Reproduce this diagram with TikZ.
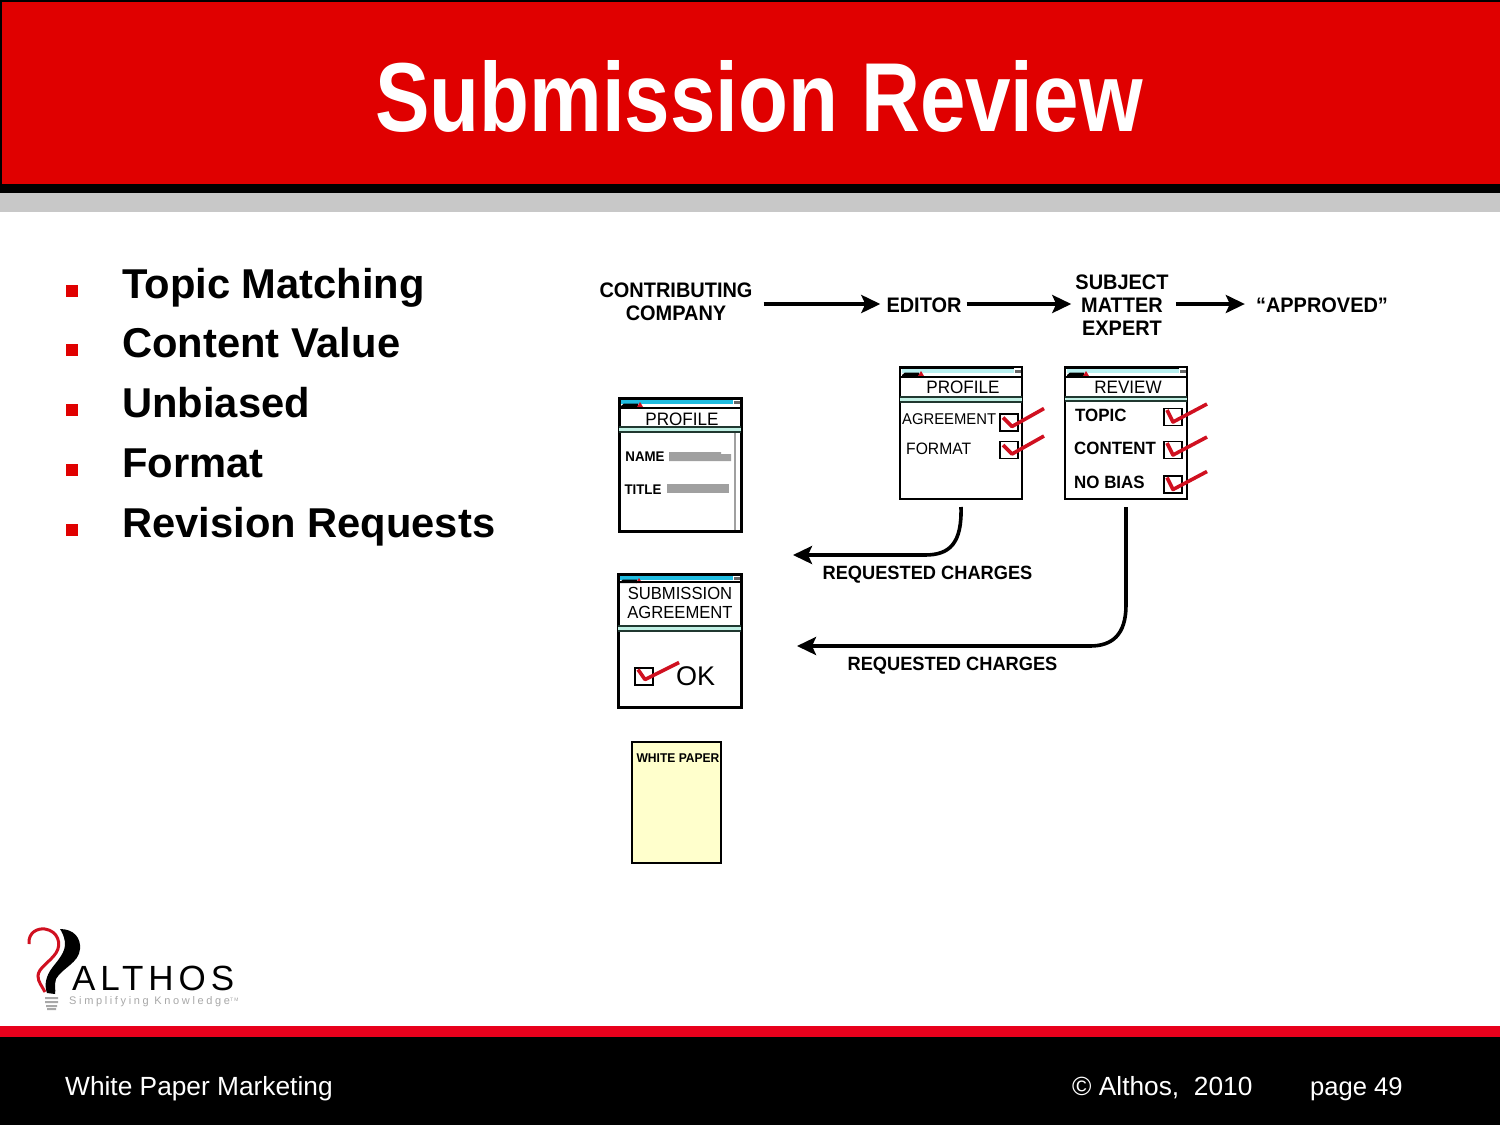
\documentclass[tikz,border=0pt]{standalone}
\usepackage{fontspec}
\usepackage{xcolor}
\usetikzlibrary{calc,arrows.meta}
\setmainfont{Liberation Sans}
\newfontfamily\titlefont[FakeStretch=0.834]{Liberation Sans}
\newfontfamily\labfont[FakeStretch=0.95]{Liberation Sans}
\newfontfamily\formfont[FakeStretch=0.95]{Liberation Sans}
\newfontfamily\logofont[LetterSpace=14]{Liberation Sans}
\newfontfamily\sublogofont[LetterSpace=24]{Liberation Sans}
\definecolor{bannerred}{HTML}{E00000}
\definecolor{bandgray}{HTML}{C8C8C8}
\definecolor{footred}{HTML}{E8001C}
\definecolor{tickred}{HTML}{D01020}
\definecolor{barcyan}{HTML}{20BCE0}
\definecolor{barpale}{HTML}{B8F0F0}
\definecolor{bandteal}{HTML}{C0F0E4}
\definecolor{linedark}{HTML}{203830}
\definecolor{fieldgray}{HTML}{A0A0A0}
\definecolor{paperfill}{HTML}{FFFFCC}
\definecolor{logogray}{HTML}{A8A8A8}
\tikzset{
  bullet/.style={fill=bannerred, inner sep=0pt, minimum size=12pt, outer sep=0pt},
  point/.style={anchor=base west, inner sep=0pt, font=\fontsize{41.7}{46}\selectfont\bfseries},
  foot/.style={anchor=base west, inner sep=0pt, text=white, font=\fontsize{26.3}{30}\selectfont},
  lab/.style={align=center, inner sep=0pt, font=\labfont\fontsize{21}{23}\selectfont\bfseries},
  reqlab/.style={inner sep=0pt, font=\labfont\fontsize{19.2}{21}\selectfont\bfseries},
  flow/.style={draw=black, line width=3.6pt, -{Stealth[length=19pt,width=18pt,inset=4pt]}},
  win/.style={draw=black, anchor=north west, inner sep=0pt, outer sep=0pt, fill=white},
  formtext/.style={inner sep=0pt, font=\formfont\fontsize{18}{18}\selectfont},
  formsmall/.style={inner sep=0pt, anchor=west, font=\formfont\fontsize{16.5}{18}\selectfont},
  formbold/.style={inner sep=0pt, anchor=west, font=\formfont\fontsize{17.8}{20}\selectfont\bfseries},
  formtiny/.style={inner sep=0pt, font=\formfont\fontsize{14}{16}\selectfont\bfseries},
  chk/.style={draw=black, line width=1.6pt, minimum width=18pt, minimum height=17pt, inner sep=0pt},
  tick/.style={draw=tickred, line width=3.6pt, line join=round},
}
% title bar along the top of a form: x0, y0, x1, colour, y of the header line
\newcommand{\formbar}[5]{
  \fill[#4] (#1+2,#2+1) rectangle (#3-8,#2+6);
  \fill[black] (#1+2,#2+8) -- (#1+5,#2+5.5) -- (#1+19,#2+5.5) -- (#1+19,#2+9) -- (#1+2,#2+9) -- cycle;
  \fill[tickred] (#1+18,#2+9) -- (#1+21,#2+4) -- (#1+24,#2+9) -- cycle;
  \draw[black, line width=1pt] (#1,#2+1) -- (#3-8,#2+1);
  \fill[black!60] (#3-7,#2+3) rectangle (#3-1,#2+6);
  \draw[black, line width=1.5pt] (#1,#5) -- (#3,#5);
}
\begin{document}
\begin{tikzpicture}[x=1pt,y=-1pt]
  \useasboundingbox (0,0) rectangle (1500,1125);
  \fill[white] (0,0) rectangle (1500,1125);
  % banner
  \fill[black] (0,0) rectangle (1500,193);
  \fill[bannerred] (1.5,1.5) rectangle (1500,184);
  \fill[bandgray] (0,193) rectangle (1500,212);
  \node[text=white, inner sep=0pt, font=\titlefont\fontsize{98}{100}\selectfont\bfseries] (title) at (759,96) {Submission Review};
  % bullets
  \node[bullet] (b1) at (72,291) {};
  \node[bullet] (b2) at (72,350) {};
  \node[bullet] (b3) at (72,410) {};
  \node[bullet] (b4) at (72,470) {};
  \node[bullet] (b5) at (72,530) {};
  \node[point] (p1) at (122,298.6) {Topic Matching};
  \node[point] (p2) at (122,357.6) {Content Value};
  \node[point] (p3) at (122,417.6) {Unbiased};
  \node[point] (p4) at (122,477.6) {Format};
  \node[point] (p5) at (122,537.6) {Revision Requests};
  % top row
  \node[lab] (company) at (676,302) {CONTRIBUTING\\COMPANY};
  \node[lab] (editor) at (924,305) {EDITOR};
  \node[lab] (expert) at (1122,305) {SUBJECT\\MATTER\\EXPERT};
  \node[lab] (approved) at (1322,305) {“APPROVED”};
  \draw[flow] ($(company.east)+(11,2)$) -- ($(editor.west)+(-6,-1)$);
  \draw[flow] ($(editor.east)+(5,-1)$) -- ($(expert.west)+(-4,-1)$);
  \draw[flow] ($(expert.east)+(7,-1)$) -- ($(approved.west)+(-11,-1)$);
  % left profile form
  \node[win, line width=3pt, minimum width=122pt, minimum height=133pt] (profleft) at (619,398) {};
  \formbar{619}{398}{741}{barcyan}{408}
  \fill[bandteal] (619,427) rectangle (741,432);
  \draw[linedark, line width=1.5pt] (619,427) -- (741,427) (619,432) -- (741,432);
  \draw[fieldgray, line width=1.5pt] (735,433) -- (735,530);
  \node[formtext] (proflefthead) at (682,419) {PROFILE};
  \node[formtiny] (namelab) at (645,457) {NAME};
  \node[formtiny] (titlelab) at (643,490) {TITLE};
  \fill[fieldgray] (669,452) -- (721,452) -- (721,454) -- (731,454) -- (731,461) -- (669,461) -- cycle;
  \fill[fieldgray] (667,484) rectangle (729,493);
  % submission agreement form
  \node[win, line width=3pt, minimum width=123pt, minimum height=133pt] (agree) at (618,574) {};
  \formbar{618}{574}{741}{barcyan}{582}
  \fill[bandteal] (618,626) rectangle (741,631);
  \draw[linedark, line width=1.5pt] (618,626) -- (741,626) (618,631) -- (741,631);
  \node[formtext, align=center, font=\formfont\fontsize{17.5}{18.5}\selectfont] (agreehead) at (680,603) {SUBMISSION\\AGREEMENT};
  \node[chk] (cbok) at (644,676.5) {};
  \draw[tick] ($(cbok)+(-6,-7)$) -- ($(cbok)+(1,3)$) -- ($(cbok)+(35,-14)$);
  \node[inner sep=0pt, font=\fontsize{27}{30}\selectfont] (oklab) at (695.5,676) {OK};
  % white paper
  \node[win, fill=paperfill, line width=1.5pt, minimum width=89pt, minimum height=121pt] (paper) at (632,742) {};
  \node[inner sep=0pt, font=\formfont\fontsize{12.7}{15}\selectfont\bfseries] (paperlab) at (678,758) {WHITE PAPER};
  % editor profile form
  \node[win, line width=2pt, minimum width=122pt, minimum height=132pt] (profedit) at (900,367) {};
  \formbar{900}{367}{1022}{barpale}{377}
  \fill[bandteal] (900,397) rectangle (1022,402);
  \draw[linedark, line width=1.5pt] (900,397) -- (1022,397) (900,402) -- (1022,402);
  \node[formtext] (profedithead) at (963,387) {PROFILE};
  \node[formsmall, font=\formfont\fontsize{15.6}{18}\selectfont] (agrlab) at (902,419) {AGREEMENT};
  \node[formsmall] (fmtlab) at (906,449) {FORMAT};
  \node[chk] (cb1) at (1009,422.5) {};
  \node[chk] (cb2) at (1009,450) {};
  \draw[tick] ($(cb1)+(-6,-5)$) -- ($(cb1)+(3,4)$) -- ($(cb1)+(35,-14)$);
  \draw[tick] ($(cb2)+(-6,-5)$) -- ($(cb2)+(3,4)$) -- ($(cb2)+(35,-14)$);
  % review form
  \node[win, line width=2pt, minimum width=122pt, minimum height=132pt] (review) at (1065,367) {};
  \formbar{1065}{367}{1187}{barpale}{377}
  \fill[bandteal] (1065,397) rectangle (1187,401);
  \draw[linedark, line width=1.5pt] (1065,397) -- (1187,397) (1065,401) -- (1187,401);
  \node[formtext] (reviewhead) at (1128,387) {REVIEW};
  \node[formbold] (topiclab) at (1075,415) {TOPIC};
  \node[formbold] (contlab) at (1074,448) {CONTENT};
  \node[formbold] (biaslab) at (1074,482) {NO BIAS};
  \node[chk] (cb3) at (1173,417) {};
  \node[chk] (cb4) at (1173,450) {};
  \node[chk] (cb5) at (1173,484.5) {};
  \draw[tick] ($(cb3)+(-6,-7)$) -- ($(cb3)+(0,5)$) -- ($(cb3)+(34,-13)$);
  \draw[tick] ($(cb4)+(-6,-7)$) -- ($(cb4)+(0,5)$) -- ($(cb4)+(34,-13)$);
  \draw[tick] ($(cb5)+(-6,-7)$) -- ($(cb5)+(0,5)$) -- ($(cb5)+(34,-13)$);
  % change requests
  \coordinate (backone) at (793,555);
  \coordinate (backtwo) at (797,646);
  \draw[flow] ($(profedit.south)+(0,8)$) .. controls (962,543) and (950,555) .. (925,555) -- (backone);
  \draw[flow] ($(review.south)+(0,8)$) -- (1126,605) .. controls (1126,635) and (1112,646) .. (1090,646) -- (backtwo);
  \node[reqlab] (reqone) at (927.5,575) {REQUESTED CHARGES};
  \node[reqlab] (reqtwo) at (952.5,666) {REQUESTED CHARGES};
  % logo
  \draw[tickred, line width=3pt] (29,944) .. controls (28,932) and (38,928) .. (45,929) .. controls (58,931) and (62,944) .. (56,953) .. controls (50,962) and (38,968) .. (38,976) .. controls (38,982) and (42,986) .. (45,992);
  \fill[black] (60,929) .. controls (74,929) and (81,938) .. (80,949) .. controls (79,963) and (62,968) .. (56,979) .. controls (54,985) and (56,990) .. (55,994) -- (47,993) .. controls (44,985) and (46,976) .. (52,968) .. controls (58,960) and (66,952) .. (65,942) .. controls (64,936) and (62,932) .. (60,929) -- cycle;
  \fill[logogray] (45,997) rectangle (58,999) (45,1001) rectangle (58,1003) (46,1005) rectangle (57,1007) (47,1008) rectangle (56,1010);
  \node[anchor=base west, inner sep=0pt, font=\logofont\fontsize{35}{37}\selectfont] (althos) at (72,990) {ALTHOS};
  \node[anchor=base west, inner sep=0pt, text=logogray, font=\sublogofont\fontsize{11}{12}\selectfont] (slogan) at (69,1004.5) {Simplifying Knowledge\raisebox{3pt}{\fontsize{5}{5}\selectfont TM}};
  % footer
  \fill[footred] (0,1026) rectangle (1500,1037);
  \fill[black] (0,1037) rectangle (1500,1125);
  \node[foot] (foota) at (65,1095) {White Paper Marketing};
  \node[foot] (footb) at (1072,1095) {© Althos,\ \ 2010};
  \node[foot, font=\fontsize{25.6}{30}\selectfont] (footc) at (1310,1095) {page 49};
\end{tikzpicture}
\end{document}
